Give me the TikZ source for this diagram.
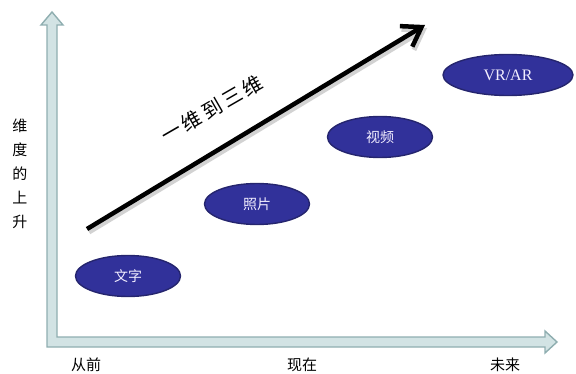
\documentclass[tikz,border=0pt]{standalone}
\usepackage{fontspec}
\setmainfont{Liberation Serif}
\newfontfamily\cjk{Noto Sans CJK SC}
\usetikzlibrary{arrows.meta,shapes.geometric,calc}
\definecolor{axisline}{HTML}{8FAEB0}
\definecolor{axisfill}{HTML}{D2E3E4}
\definecolor{ellfill}{HTML}{31319A}
\definecolor{elldraw}{HTML}{25256E}
\definecolor{elltext}{HTML}{F2EEFF}
\tikzset{
  stage/.style={ellipse, draw=elldraw, line width=1.4pt, fill=ellfill,
    minimum width=105pt, minimum height=41pt, inner sep=0pt,
    text=elltext, font=\cjk\fontsize{14}{14}\selectfont},
  ticklabel/.style={font=\cjk\fontsize{15}{15}\selectfont, text=black},
}
\begin{document}
\begin{tikzpicture}[x=1pt,y=-1pt]
\useasboundingbox (0,0) rectangle (576,374);
% axes (hollow L arrow)
\coordinate (o) at (52,342);
\draw[axisline, line width=1.4pt, fill=axisfill, line join=miter]
  (47,347) -- (47,25) -- (41,25) -- (52,12) -- (63,25) -- (57,25) -- (57,337)
  -- (545,337) -- (545,331) -- (557,342) -- (545,353) -- (545,347) -- cycle;
% axis labels
\node[ticklabel] (l1) at (86,365) {从前};
\node[ticklabel] (l2) at (302,365) {现在};
\node[ticklabel] (l3) at (505,365) {未来};
\node[ticklabel, align=center] (ylab) at (20,174) {维\\[9pt]度\\[9pt]的\\[9pt]上\\[9pt]升};
% big arrow
\coordinate (as) at (87,229);
\coordinate (ae) at (425,25);
\draw[black!35, opacity=0.5, line width=5pt, -{Straight Barb[length=18pt,width=24pt]}]
  ($(as)+(2,3)$) -- ($(ae)+(2,3)$);
\draw[black, line width=4.5pt, line cap=butt, -{Straight Barb[length=18pt,width=24pt]}]
  (as) -- (ae);
\node[font=\cjk\fontsize{20}{20}\selectfont, rotate=30] (dim) at (212,109)
  {一\,维\,到\,三\,维};
% stages
\node[stage] (wz) at (128,276) {文字};
\node[stage] (zp) at (257,204) {照片};
\node[stage] (sp) at (380,137) {视频};
\node[stage, minimum width=130pt, font=\fontsize{16}{16}\selectfont] (vr) at (508,75) {VR/AR};
\end{tikzpicture}
\end{document}
